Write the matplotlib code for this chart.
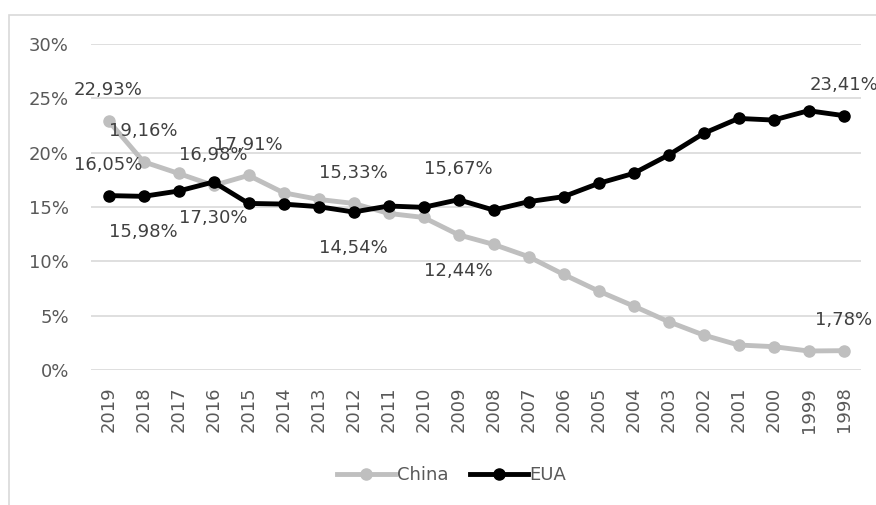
import numpy as np
import matplotlib
matplotlib.use('Agg')
import matplotlib.pyplot as plt
from matplotlib.patches import Rectangle

# dados (%)
anos = ['2019', '2018', '2017', '2016', '2015', '2014', '2013', '2012', '2011', '2010', '2009',
        '2008', '2007', '2006', '2005', '2004', '2003', '2002', '2001', '2000', '1999', '1998']
china = [22.93, 19.16, 18.09, 16.98, 17.91, 16.31, 15.70, 15.33, 14.41, 14.04, 12.44,
         11.56, 10.43, 8.80, 7.27, 5.89, 4.45, 3.22, 2.30, 2.15, 1.75, 1.78]
eua = [16.05, 15.98, 16.47, 17.30, 15.33, 15.27, 15.03, 14.54, 15.09, 14.97, 15.67,
       14.72, 15.49, 15.95, 17.17, 18.09, 19.78, 21.77, 23.15, 23.00, 23.86, 23.41]

# rótulos mostrados: (índice, acima/abaixo)
rotulos_china = [(0, 'up'), (1, 'up'), (3, 'up'), (4, 'up'), (7, 'up'), (10, 'down'), (21, 'up')]
rotulos_eua = [(0, 'up'), (1, 'down'), (3, 'down'), (7, 'down'), (10, 'up'), (21, 'up')]

cinza_txt = '#404040'
fonte = 13

fig = plt.figure(figsize=(8.76, 5.05), dpi=100)
ax = fig.add_axes([0.1039, 0.2673, 0.879, 0.6456])

x = np.arange(len(anos))
ax.plot(x, china, color='#bfbfbf', lw=3.5, marker='o', ms=8, label='China', zorder=3)
ax.plot(x, eua, color='black', lw=3.5, marker='o', ms=8, label='EUA', zorder=4)

def rotula(valores, lista):
    for i, pos in lista:
        txt = ('%.2f%%' % valores[i]).replace('.', ',')
        dy = 22 if pos == 'up' else -26
        ax.annotate(txt, (x[i], valores[i]), xytext=(0, dy), textcoords='offset points',
                    ha='center', va='center', fontsize=fonte, color=cinza_txt, zorder=5)

rotula(china, rotulos_china)
rotula(eua, rotulos_eua)

ax.set_xlim(-0.5, len(anos) - 0.5)
ax.set_ylim(0, 30)
ax.set_yticks(np.arange(0, 31, 5))
ax.set_yticklabels(['%d%%' % v for v in range(0, 31, 5)])
ax.set_xticks(x)
ax.set_xticklabels(anos, rotation=90)
ax.tick_params(axis='both', length=0, labelsize=fonte, labelcolor='#595959')
ax.tick_params(axis='y', pad=16)
ax.tick_params(axis='x', pad=12)
ax.grid(axis='y', color='#d9d9d9', lw=1.2)
ax.set_axisbelow(True)
for s in ax.spines.values():
    s.set_visible(False)

leg = fig.legend(loc='center', bbox_to_anchor=(452 / 876, 1 - 475 / 505), ncol=2, frameon=False,
                 fontsize=fonte, handlelength=3.2, handletextpad=0.1, columnspacing=1.2)
for t in leg.get_texts():
    t.set_color('#595959')

# borda do gráfico
fig.patches.append(Rectangle((9 / 876, -0.1), 1.2, 1 - 15 / 505 + 0.1, transform=fig.transFigure,
                             fill=False, edgecolor='#d9d9d9', lw=1.2))

fig.savefig('out.png', dpi=100)
